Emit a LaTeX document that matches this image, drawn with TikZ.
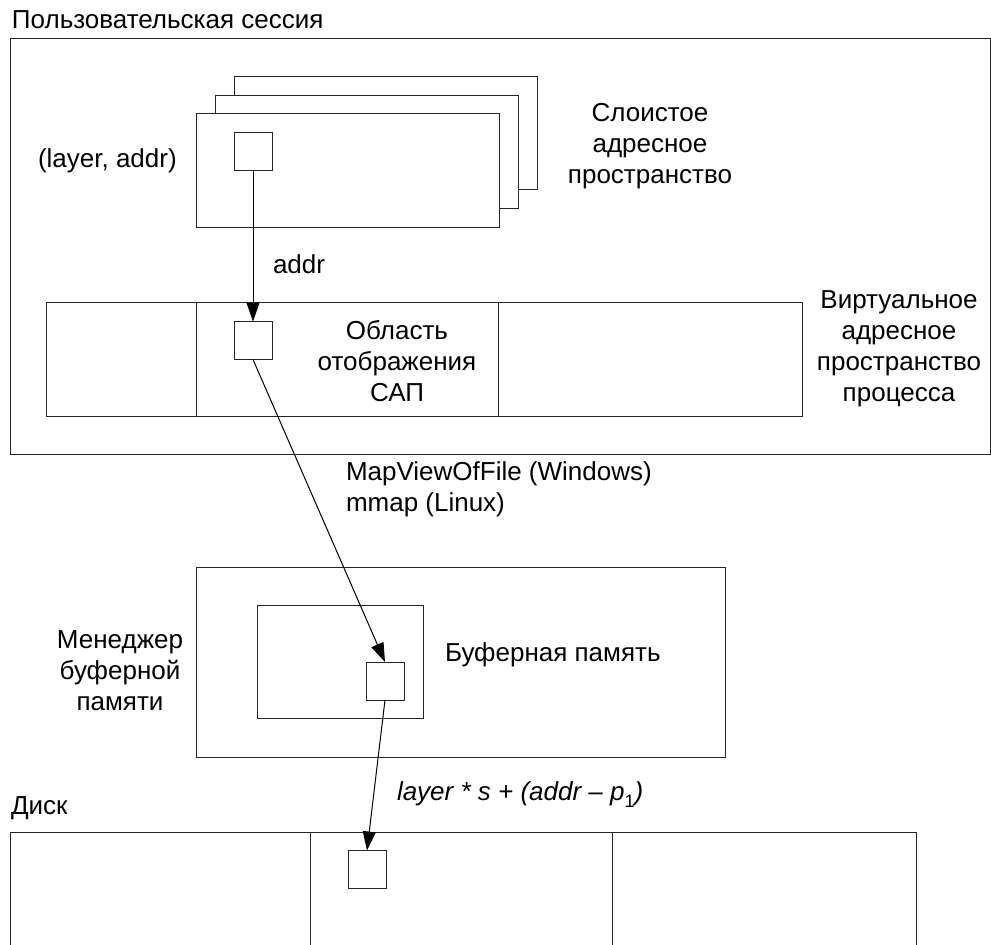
\documentclass[tikz,border=0pt]{standalone}
\usepackage{fontspec}
\setmainfont{Liberation Sans}
\usetikzlibrary{arrows.meta}

\tikzset{
  frame/.style={draw=black!85, line width=1pt, inner sep=0pt, outer sep=0pt, fill=white},
  cell/.style={frame, minimum width=38pt, minimum height=38pt},
  conn/.style={draw=black, line width=1pt, -{Triangle[length=19pt,width=13pt]}},
  lbl/.style={inner sep=0pt, outer sep=0pt, font=\fontsize{26}{31}\selectfont},
}

\begin{document}
\begin{tikzpicture}[x=1pt,y=-1pt]
\useasboundingbox (0,0) rectangle (991,945);

% user session frame
\node[frame, fill=none, minimum width=980pt, minimum height=416pt] (session) at (500,246) {};
\node[lbl, anchor=base west] (sessionlbl) at (12,28) {Пользовательская сессия};

% stacked layers of the layered address space
\node[frame, minimum width=303pt, minimum height=113pt] (layer3) at (385.5,132.5) {};
\node[frame, minimum width=303pt, minimum height=113pt] (layer2) at (366.5,151.5) {};
\node[frame, minimum width=303pt, minimum height=114pt] (layer1) at (347.5,170) {};
\node[cell] (sqlayer) at (253,151.5) {};
\node[lbl, anchor=base west] (layeraddr) at (38,167) {(layer, addr)};
\node[lbl, anchor=north, align=center] (lasname) at (650,99.3)
  {\strut Слоистое\\адресное\\пространство};

% process virtual address space
\node[frame, minimum width=150pt, minimum height=114pt] (vasL) at (121,359) {};
\node[frame, minimum width=302pt, minimum height=114pt] (vasM) at (347,359) {};
\node[frame, minimum width=304pt, minimum height=114pt] (vasR) at (650,359) {};
\node[cell] (sqvas) at (253,340.5) {};
\node[lbl, anchor=north, align=center] (mapname) at (397,317.3)
  {\strut Область\\отображения\\САП};
\node[lbl, anchor=north, align=center] (vasname) at (899,286.3)
  {\strut Виртуальное\\адресное\\пространство\\процесса};

\draw[conn] (sqlayer.south) -- (sqvas.north);
\node[lbl, anchor=base west] (addrlbl) at (273,273) {addr};

% buffer manager
\node[frame, minimum width=529pt, minimum height=190pt] (bufmgr) at (460.5,662) {};
\node[frame, minimum width=166pt, minimum height=113pt] (bufmem) at (340,661.5) {};
\node[cell] (sqbuf) at (385,681) {};
\node[lbl, anchor=north, align=center] (bufmgrname) at (120,626.3)
  {\strut Менеджер\\буферной\\памяти};
\node[lbl, anchor=base west] (bufmemname) at (445,661) {Буферная память};

\draw[conn] (sqvas.south) -- (sqbuf.north);
\node[lbl, anchor=north west, align=left] (mapcall) at (346,458.3)
  {\strut MapViewOfFile (Windows)\\mmap (Linux)};

% disk
\node[lbl, anchor=base west] (disklbl) at (11,814) {Диск};
\coordinate (dTL) at (10,832);
\coordinate (dTR) at (916,832);
\draw[draw=black!85, line width=1pt] (10,945) -- (dTL) -- (dTR) -- (916,945);
\draw[draw=black!85, line width=1pt] (310,832) -- (310,945);
\draw[draw=black!85, line width=1pt] (612,832) -- (612,945);
\node[cell] (sqdisk) at (367,869.5) {};

\draw[conn] (sqbuf.south) -- (sqdisk.north);
\node[lbl, anchor=base west] (offset) at (397,800)
  {\itshape layer * s + (addr – p\raisebox{-7pt}{\upshape\fontsize{18}{18}\selectfont 1})};

\end{tikzpicture}
\end{document}
